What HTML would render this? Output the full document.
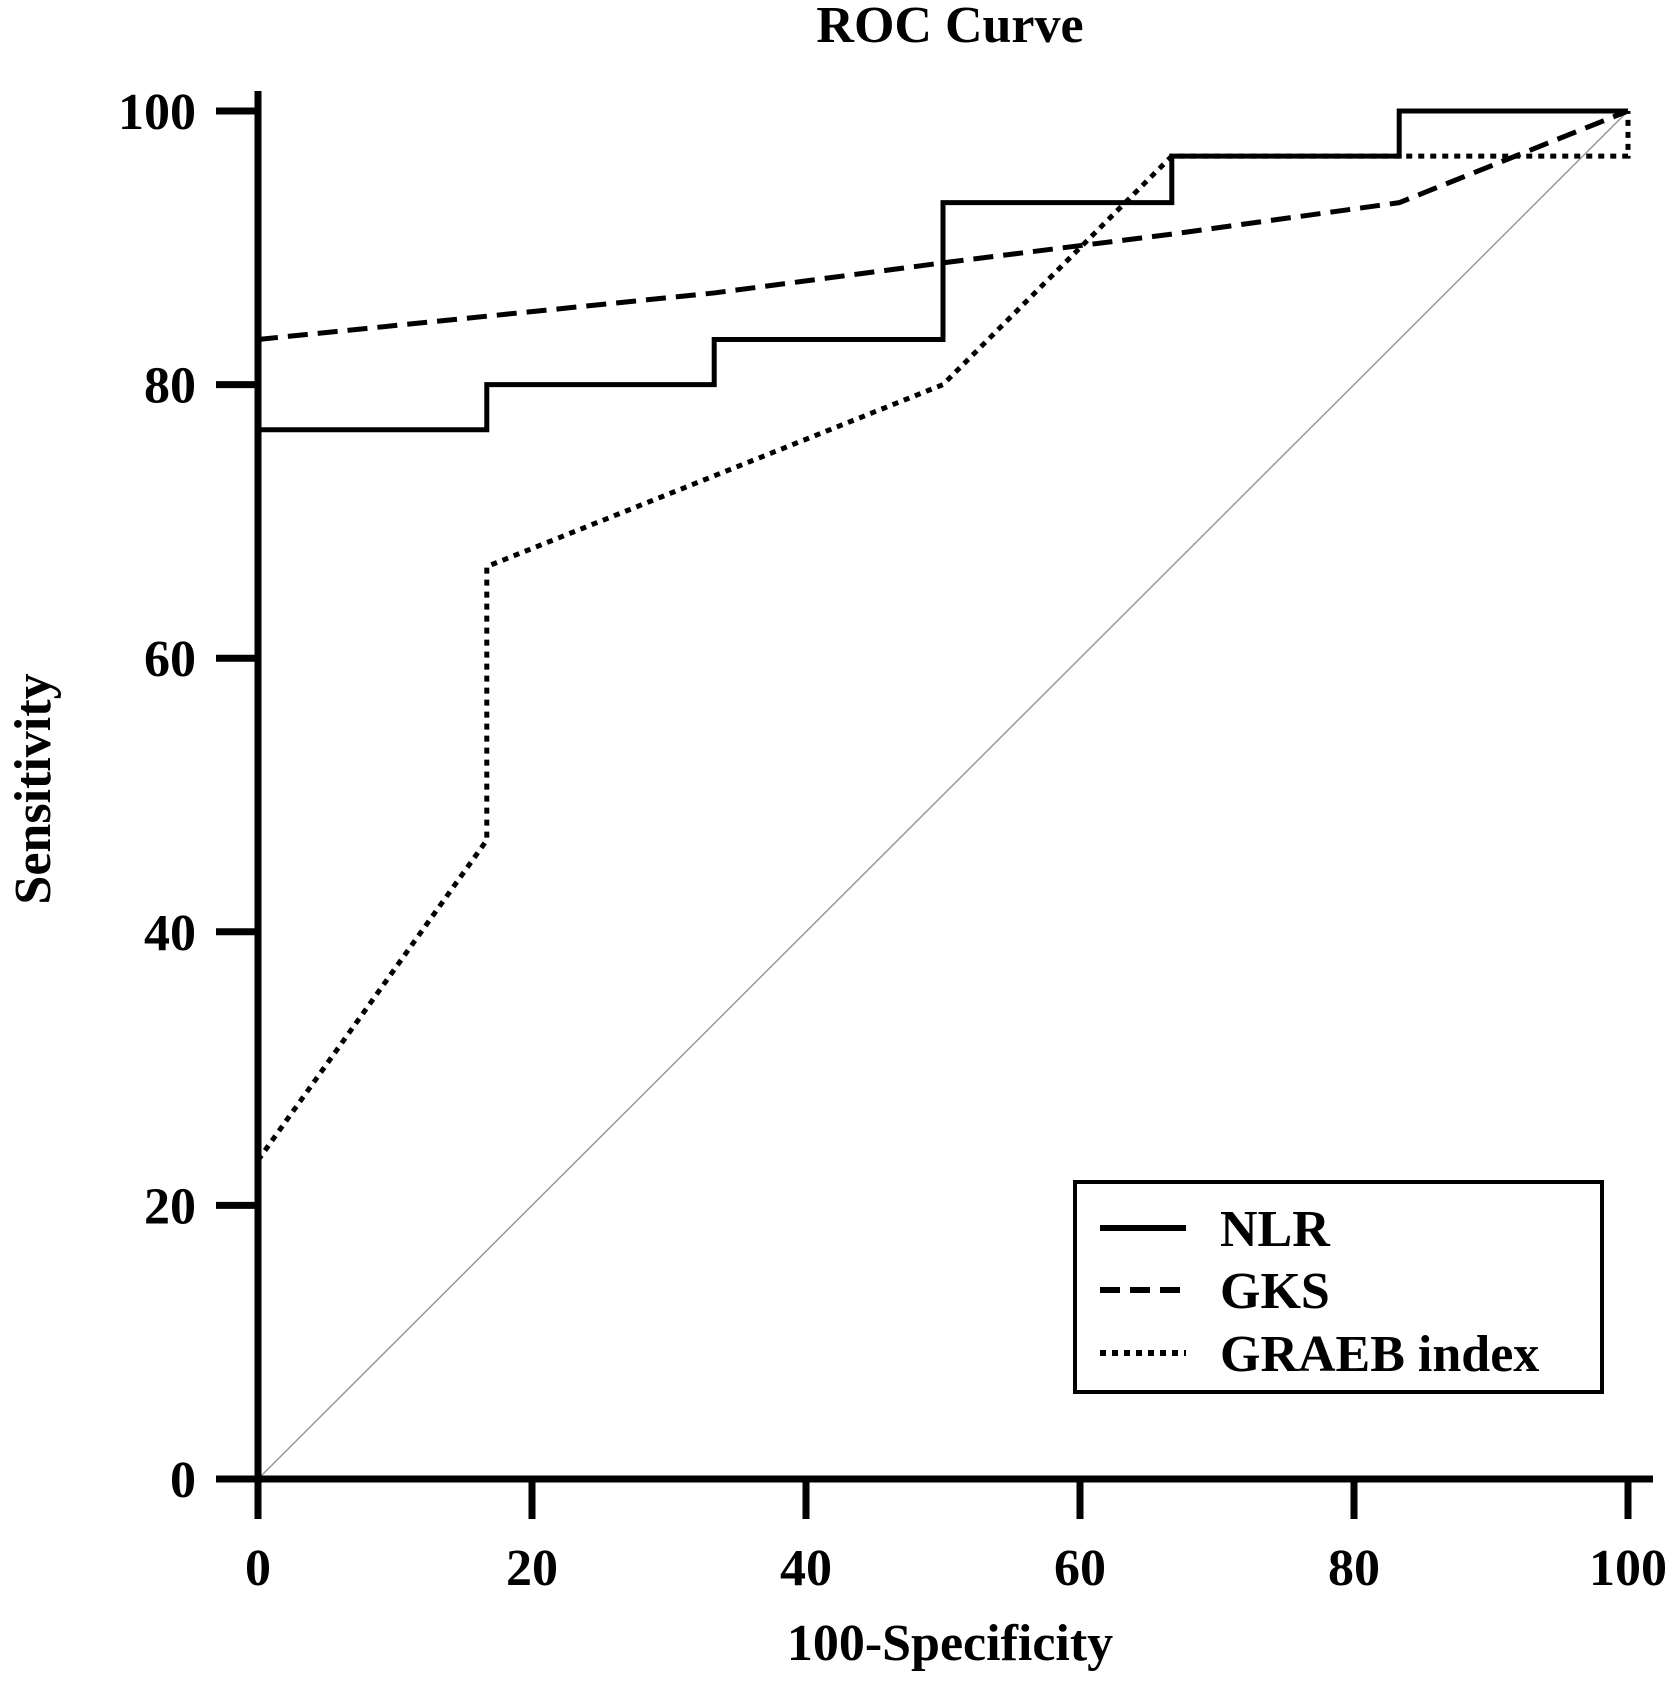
<!DOCTYPE html>
<html><head><meta charset="utf-8"><style>
html,body{margin:0;padding:0;background:#fff;}
svg{display:block;font-family:"Liberation Serif",serif;font-weight:bold;}
</style></head><body>
<svg id="chart" width="1675" height="1683" viewBox="0 0 1675 1683" xmlns="http://www.w3.org/2000/svg">
<text x="950" y="42" font-size="52" text-anchor="middle">ROC Curve</text>
<text transform="translate(50,789) rotate(-90)" font-size="52" text-anchor="middle">Sensitivity</text>
<text x="950" y="1660" font-size="52" text-anchor="middle">100-Specificity</text>
<line id="diag" stroke="#999" stroke-width="1.5"/>
<g id="series"></g>
<g id="axes"></g>
<g>
<rect x="1075" y="1182" width="527" height="210" fill="none" stroke="#000" stroke-width="4"/>
<line x1="1100" y1="1228" x2="1186" y2="1228" stroke="#000" stroke-width="6"/>
<text x="1220" y="1246" font-size="52">NLR</text>
<line x1="1100" y1="1290" x2="1186" y2="1290" stroke="#000" stroke-width="6" stroke-dasharray="20,10"/>
<text x="1220" y="1308" font-size="52">GKS</text>
<line x1="1100" y1="1353" x2="1186" y2="1353" stroke="#000" stroke-width="6" stroke-dasharray="6,6"/>
<text x="1220" y="1371" font-size="52">GRAEB index</text>
</g>
</svg>
<script>
const xTicks=[0,20,40,60,80,100];
const yTicks=[0,20,40,60,80,100];
const nlrX=[0,0,16.7,16.7,33.3,33.3,50,50,66.7,66.7,83.3,83.3,100];
const nlrY=[0,76.7,76.7,80,80,83.3,83.3,93.3,93.3,96.7,96.7,100,100];
const gksX=[0,16.7,33.3,50,66.7,83.3,100];
const gksY=[83.3,85,86.7,88.9,91,93.3,100];
const graebX=[0,16.7,16.7,50,66.7,100,100];
const graebY=[23.3,46.7,66.7,80,96.7,96.7,100];
const X0=258,X1=1628,Y0=1479,Y1=111;
const sx=v=>X0+(X1-X0)*v/100;
const sy=v=>Y0-(Y0-Y1)*v/100;
const NS='http://www.w3.org/2000/svg';
const d=document.getElementById('diag');
d.setAttribute('x1',sx(0));d.setAttribute('y1',sy(0));d.setAttribute('x2',sx(100));d.setAttribute('y2',sy(100));
function path(xs,ys,name,dash){
  const p=document.createElementNS(NS,'polyline');
  p.setAttribute('points',xs.map((x,i)=>sx(x)+','+sy(ys[i])).join(' '));
  p.setAttribute('fill','none');p.setAttribute('stroke','#000');p.setAttribute('stroke-width','5');
  if(dash)p.setAttribute('stroke-dasharray',dash);
  
  
  document.getElementById('series').appendChild(p);
}
path(graebX,graebY,'graeb-curve','6,6');
path(gksX,gksY,'gks-curve','20,10');
path(nlrX,nlrY,'nlr-curve',null);
const ax=document.getElementById('axes');
function ln(x1,y1,x2,y2,w,name){
  const l=document.createElementNS(NS,'line');
  l.setAttribute('x1',x1);l.setAttribute('y1',y1);l.setAttribute('x2',x2);l.setAttribute('y2',y2);
  l.setAttribute('stroke','#000');l.setAttribute('stroke-width',w);
  
  
  ax.appendChild(l);
}
function tx(x,y,s,anchor,name){
  const t=document.createElementNS(NS,'text');
  t.setAttribute('x',x);t.setAttribute('y',y);t.setAttribute('font-size','52');t.setAttribute('text-anchor',anchor);
  t.textContent=s;
  
  
  ax.appendChild(t);
}
ln(X0,Y1-20,X0,Y0+4,7,'y-axis-line');
ln(X0-4,Y0,X1+25,Y0,7,'x-axis-line');
xTicks.forEach(v=>{ln(sx(v),Y0,sx(v),Y0+40,7,'x-tick');tx(sx(v),Y0+106,String(v),'middle','x-tick-label');});
yTicks.forEach(v=>{ln(X0-42,sy(v),X0,sy(v),7,'y-tick');tx(X0-62,sy(v)+18,String(v),'end','y-tick-label');});
</script>
</body></html>
